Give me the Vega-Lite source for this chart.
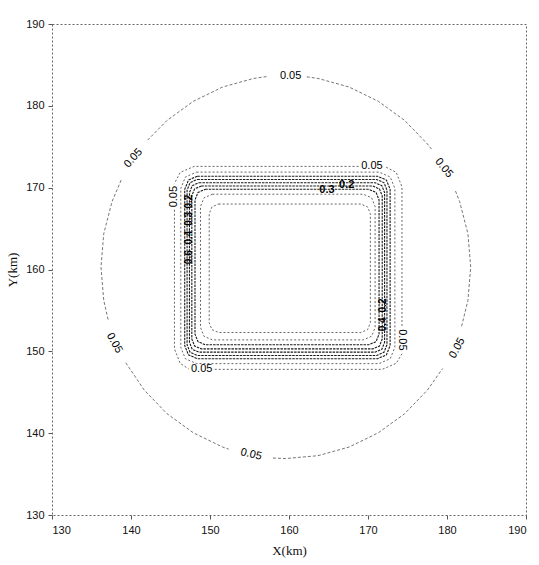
{
  "$schema": "https://vega.github.io/schema/vega-lite/v6.json",
  "width": 474,
  "height": 491,
  "autosize": {"type": "none"},
  "padding": {"left": 52, "top": 24, "right": 13, "bottom": 50},
  "background": "white",
  "config": {"view": {"stroke": "#666", "strokeDash": [2, 2], "strokeWidth": 1}},
  "datasets": {
    "lines": [
      {"c": "e1", "part": "outer", "o": 1, "x": 181.85, "y": 153.07},
      {"c": "e1", "part": "outer", "o": 2, "x": 182.65, "y": 156.23},
      {"c": "e1", "part": "outer", "o": 3, "x": 183.0, "y": 160.3},
      {"c": "e1", "part": "outer", "o": 4, "x": 182.65, "y": 164.37},
      {"c": "e1", "part": "outer", "o": 5, "x": 181.6, "y": 168.3},
      {"c": "e1", "part": "outer", "o": 6, "x": 180.98, "y": 169.82},
      {"c": "e2", "part": "outer", "o": 1, "x": 178.04, "y": 174.71},
      {"c": "e2", "part": "outer", "o": 2, "x": 177.52, "y": 175.34},
      {"c": "e2", "part": "outer", "o": 3, "x": 174.64, "y": 178.22},
      {"c": "e2", "part": "outer", "o": 4, "x": 171.3, "y": 180.56},
      {"c": "e2", "part": "outer", "o": 5, "x": 167.6, "y": 182.3},
      {"c": "e2", "part": "outer", "o": 6, "x": 163.67, "y": 183.35},
      {"c": "e2", "part": "outer", "o": 7, "x": 162.05, "y": 183.57},
      {"c": "e3", "part": "outer", "o": 1, "x": 157.15, "y": 183.57},
      {"c": "e3", "part": "outer", "o": 2, "x": 155.53, "y": 183.35},
      {"c": "e3", "part": "outer", "o": 3, "x": 151.6, "y": 182.3},
      {"c": "e3", "part": "outer", "o": 4, "x": 147.9, "y": 180.56},
      {"c": "e3", "part": "outer", "o": 5, "x": 144.56, "y": 178.22},
      {"c": "e3", "part": "outer", "o": 6, "x": 141.94, "y": 175.65},
      {"c": "e4", "part": "outer", "o": 1, "x": 138.75, "y": 170.92},
      {"c": "e4", "part": "outer", "o": 2, "x": 137.6, "y": 168.3},
      {"c": "e4", "part": "outer", "o": 3, "x": 136.55, "y": 164.37},
      {"c": "e4", "part": "outer", "o": 4, "x": 136.2, "y": 160.3},
      {"c": "e4", "part": "outer", "o": 5, "x": 136.55, "y": 156.23},
      {"c": "e4", "part": "outer", "o": 6, "x": 137.11, "y": 153.85},
      {"c": "e5", "part": "outer", "o": 1, "x": 139.34, "y": 148.6},
      {"c": "e5", "part": "outer", "o": 2, "x": 141.68, "y": 145.26},
      {"c": "e5", "part": "outer", "o": 3, "x": 144.56, "y": 142.38},
      {"c": "e5", "part": "outer", "o": 4, "x": 147.9, "y": 140.04},
      {"c": "e5", "part": "outer", "o": 5, "x": 151.6, "y": 138.3},
      {"c": "e5", "part": "outer", "o": 6, "x": 152.37, "y": 138.05},
      {"c": "e6", "part": "outer", "o": 1, "x": 157.97, "y": 136.96},
      {"c": "e6", "part": "outer", "o": 2, "x": 159.6, "y": 136.9},
      {"c": "e6", "part": "outer", "o": 3, "x": 163.67, "y": 137.25},
      {"c": "e6", "part": "outer", "o": 4, "x": 167.6, "y": 138.3},
      {"c": "e6", "part": "outer", "o": 5, "x": 171.3, "y": 140.04},
      {"c": "e6", "part": "outer", "o": 6, "x": 174.64, "y": 142.38},
      {"c": "e6", "part": "outer", "o": 7, "x": 177.52, "y": 145.26},
      {"c": "e6", "part": "outer", "o": 8, "x": 179.44, "y": 147.9},

      {"c": "s1", "part": "source", "o": 1, "x": 145.5, "y": 167.3},
      {"c": "s1", "part": "source", "o": 2, "x": 145.5, "y": 150.3},
      {"c": "s1", "part": "source", "o": 3, "x": 146.23, "y": 148.53},
      {"c": "s1", "part": "source", "o": 4, "x": 147.3, "y": 147.85},
      {"c": "s2", "part": "source", "o": 1, "x": 150.6, "y": 147.8},
      {"c": "s2", "part": "source", "o": 2, "x": 171.8, "y": 147.8},
      {"c": "s2", "part": "source", "o": 3, "x": 173.57, "y": 148.53},
      {"c": "s2", "part": "source", "o": 4, "x": 174.3, "y": 149.7},
      {"c": "s3", "part": "source", "o": 1, "x": 174.3, "y": 153.1},
      {"c": "s3", "part": "source", "o": 2, "x": 174.3, "y": 170.1},
      {"c": "s3", "part": "source", "o": 3, "x": 173.57, "y": 171.87},
      {"c": "s3", "part": "source", "o": 4, "x": 172.2, "y": 172.55},
      {"c": "s4", "part": "source", "o": 1, "x": 168.8, "y": 172.6},
      {"c": "s4", "part": "source", "o": 2, "x": 148.0, "y": 172.6},
      {"c": "s4", "part": "source", "o": 3, "x": 146.23, "y": 171.87},
      {"c": "s4", "part": "source", "o": 4, "x": 145.5, "y": 170.5},

      {"c": "c2", "part": "source", "o": 1, "x": 148.3, "y": 171.9},
      {"c": "c2", "part": "source", "o": 2, "x": 171.4, "y": 171.9},
      {"c": "c2", "part": "source", "o": 3, "x": 172.81, "y": 171.31},
      {"c": "c2", "part": "source", "o": 4, "x": 173.4, "y": 169.9},
      {"c": "c2", "part": "source", "o": 5, "x": 173.4, "y": 150.5},
      {"c": "c2", "part": "source", "o": 6, "x": 172.81, "y": 149.09},
      {"c": "c2", "part": "source", "o": 7, "x": 171.4, "y": 148.5},
      {"c": "c2", "part": "source", "o": 8, "x": 148.3, "y": 148.5},
      {"c": "c2", "part": "source", "o": 9, "x": 146.89, "y": 149.09},
      {"c": "c2", "part": "source", "o": 10, "x": 146.3, "y": 150.5},
      {"c": "c2", "part": "source", "o": 11, "x": 146.3, "y": 169.9},
      {"c": "c2", "part": "source", "o": 12, "x": 146.89, "y": 171.31},
      {"c": "c2", "part": "source", "o": 13, "x": 148.3, "y": 171.9},

      {"c": "c3", "part": "source", "o": 1, "x": 148.4, "y": 171.4},
      {"c": "c3", "part": "source", "o": 2, "x": 171.2, "y": 171.4},
      {"c": "c3", "part": "source", "o": 3, "x": 172.33, "y": 170.93},
      {"c": "c3", "part": "source", "o": 4, "x": 172.8, "y": 169.8},
      {"c": "c3", "part": "source", "o": 5, "x": 172.8, "y": 150.7},
      {"c": "c3", "part": "source", "o": 6, "x": 172.33, "y": 149.57},
      {"c": "c3", "part": "source", "o": 7, "x": 171.2, "y": 149.1},
      {"c": "c3", "part": "source", "o": 8, "x": 148.4, "y": 149.1},
      {"c": "c3", "part": "source", "o": 9, "x": 147.27, "y": 149.57},
      {"c": "c3", "part": "source", "o": 10, "x": 146.8, "y": 150.7},
      {"c": "c3", "part": "source", "o": 11, "x": 146.8, "y": 169.8},
      {"c": "c3", "part": "source", "o": 12, "x": 147.27, "y": 170.93},
      {"c": "c3", "part": "source", "o": 13, "x": 148.4, "y": 171.4},

      {"c": "c4", "part": "source", "o": 1, "x": 148.4, "y": 171.0},
      {"c": "c4", "part": "source", "o": 2, "x": 171.1, "y": 171.0},
      {"c": "c4", "part": "source", "o": 3, "x": 172.02, "y": 170.62},
      {"c": "c4", "part": "source", "o": 4, "x": 172.4, "y": 169.7},
      {"c": "c4", "part": "source", "o": 5, "x": 172.4, "y": 150.8},
      {"c": "c4", "part": "source", "o": 6, "x": 172.02, "y": 149.88},
      {"c": "c4", "part": "source", "o": 7, "x": 171.1, "y": 149.5},
      {"c": "c4", "part": "source", "o": 8, "x": 148.4, "y": 149.5},
      {"c": "c4", "part": "source", "o": 9, "x": 147.48, "y": 149.88},
      {"c": "c4", "part": "source", "o": 10, "x": 147.1, "y": 150.8},
      {"c": "c4", "part": "source", "o": 11, "x": 147.1, "y": 169.7},
      {"c": "c4", "part": "source", "o": 12, "x": 147.48, "y": 170.62},
      {"c": "c4", "part": "source", "o": 13, "x": 148.4, "y": 171.0},

      {"c": "c5", "part": "source", "o": 1, "x": 148.6, "y": 170.6},
      {"c": "c5", "part": "source", "o": 2, "x": 170.9, "y": 170.6},
      {"c": "c5", "part": "source", "o": 3, "x": 171.75, "y": 170.25},
      {"c": "c5", "part": "source", "o": 4, "x": 172.1, "y": 169.4},
      {"c": "c5", "part": "source", "o": 5, "x": 172.1, "y": 151.1},
      {"c": "c5", "part": "source", "o": 6, "x": 171.75, "y": 150.25},
      {"c": "c5", "part": "source", "o": 7, "x": 170.9, "y": 149.9},
      {"c": "c5", "part": "source", "o": 8, "x": 148.6, "y": 149.9},
      {"c": "c5", "part": "source", "o": 9, "x": 147.75, "y": 150.25},
      {"c": "c5", "part": "source", "o": 10, "x": 147.4, "y": 151.1},
      {"c": "c5", "part": "source", "o": 11, "x": 147.4, "y": 169.4},
      {"c": "c5", "part": "source", "o": 12, "x": 147.75, "y": 170.25},
      {"c": "c5", "part": "source", "o": 13, "x": 148.6, "y": 170.6},

      {"c": "c6", "part": "source", "o": 1, "x": 148.9, "y": 170.2},
      {"c": "c6", "part": "source", "o": 2, "x": 170.6, "y": 170.2},
      {"c": "c6", "part": "source", "o": 3, "x": 171.45, "y": 169.85},
      {"c": "c6", "part": "source", "o": 4, "x": 171.8, "y": 169.0},
      {"c": "c6", "part": "source", "o": 5, "x": 171.8, "y": 151.5},
      {"c": "c6", "part": "source", "o": 6, "x": 171.45, "y": 150.65},
      {"c": "c6", "part": "source", "o": 7, "x": 170.6, "y": 150.3},
      {"c": "c6", "part": "source", "o": 8, "x": 148.9, "y": 150.3},
      {"c": "c6", "part": "source", "o": 9, "x": 148.05, "y": 150.65},
      {"c": "c6", "part": "source", "o": 10, "x": 147.7, "y": 151.5},
      {"c": "c6", "part": "source", "o": 11, "x": 147.7, "y": 169.0},
      {"c": "c6", "part": "source", "o": 12, "x": 148.05, "y": 169.85},
      {"c": "c6", "part": "source", "o": 13, "x": 148.9, "y": 170.2},

      {"c": "c7", "part": "source", "o": 1, "x": 149.4, "y": 169.8},
      {"c": "c7", "part": "source", "o": 2, "x": 170.1, "y": 169.8},
      {"c": "c7", "part": "source", "o": 3, "x": 171.02, "y": 169.42},
      {"c": "c7", "part": "source", "o": 4, "x": 171.4, "y": 168.5},
      {"c": "c7", "part": "source", "o": 5, "x": 171.4, "y": 152.1},
      {"c": "c7", "part": "source", "o": 6, "x": 171.02, "y": 151.18},
      {"c": "c7", "part": "source", "o": 7, "x": 170.1, "y": 150.8},
      {"c": "c7", "part": "source", "o": 8, "x": 149.4, "y": 150.8},
      {"c": "c7", "part": "source", "o": 9, "x": 148.48, "y": 151.18},
      {"c": "c7", "part": "source", "o": 10, "x": 148.1, "y": 152.1},
      {"c": "c7", "part": "source", "o": 11, "x": 148.1, "y": 168.5},
      {"c": "c7", "part": "source", "o": 12, "x": 148.48, "y": 169.42},
      {"c": "c7", "part": "source", "o": 13, "x": 149.4, "y": 169.8},

      {"c": "c8", "part": "source", "o": 1, "x": 150.3, "y": 169.2},
      {"c": "c8", "part": "source", "o": 2, "x": 169.4, "y": 169.2},
      {"c": "c8", "part": "source", "o": 3, "x": 170.46, "y": 168.76},
      {"c": "c8", "part": "source", "o": 4, "x": 170.9, "y": 167.7},
      {"c": "c8", "part": "source", "o": 5, "x": 170.9, "y": 152.9},
      {"c": "c8", "part": "source", "o": 6, "x": 170.46, "y": 151.84},
      {"c": "c8", "part": "source", "o": 7, "x": 169.4, "y": 151.4},
      {"c": "c8", "part": "source", "o": 8, "x": 150.3, "y": 151.4},
      {"c": "c8", "part": "source", "o": 9, "x": 149.24, "y": 151.84},
      {"c": "c8", "part": "source", "o": 10, "x": 148.8, "y": 152.9},
      {"c": "c8", "part": "source", "o": 11, "x": 148.8, "y": 167.7},
      {"c": "c8", "part": "source", "o": 12, "x": 149.24, "y": 168.76},
      {"c": "c8", "part": "source", "o": 13, "x": 150.3, "y": 169.2},

      {"c": "c9", "part": "source", "o": 1, "x": 151.1, "y": 168.0},
      {"c": "c9", "part": "source", "o": 2, "x": 169.1, "y": 168.0},
      {"c": "c9", "part": "source", "o": 3, "x": 169.95, "y": 167.65},
      {"c": "c9", "part": "source", "o": 4, "x": 170.3, "y": 166.8},
      {"c": "c9", "part": "source", "o": 5, "x": 170.3, "y": 153.5},
      {"c": "c9", "part": "source", "o": 6, "x": 169.95, "y": 152.65},
      {"c": "c9", "part": "source", "o": 7, "x": 169.1, "y": 152.3},
      {"c": "c9", "part": "source", "o": 8, "x": 151.1, "y": 152.3},
      {"c": "c9", "part": "source", "o": 9, "x": 150.25, "y": 152.65},
      {"c": "c9", "part": "source", "o": 10, "x": 149.9, "y": 153.5},
      {"c": "c9", "part": "source", "o": 11, "x": 149.9, "y": 166.8},
      {"c": "c9", "part": "source", "o": 12, "x": 150.25, "y": 167.65},
      {"c": "c9", "part": "source", "o": 13, "x": 151.1, "y": 168.0}
    ],
    "labels": [
      {"t": "0.05", "side": "h", "x": 160.2, "y": 183.6},
      {"t": "0.05", "side": "nw", "x": 140.3, "y": 173.6},
      {"t": "0.05", "side": "ne", "x": 179.6, "y": 172.4},
      {"t": "0.05", "side": "sw", "x": 137.9, "y": 151.0},
      {"t": "0.05", "side": "s", "x": 155.2, "y": 137.4},
      {"t": "0.05", "side": "se", "x": 181.3, "y": 150.4},
      {"t": "0.05", "side": "h", "x": 170.5, "y": 172.6},
      {"t": "0.05", "side": "h", "x": 148.95, "y": 147.8},
      {"t": "0.05", "side": "up", "x": 145.5, "y": 168.9},
      {"t": "0.05", "side": "down", "x": 174.3, "y": 151.4}
    ],
    "inner": [
      {"t": "0.3", "side": "h", "x": 164.8, "y": 169.7},
      {"t": "0.2", "side": "h", "x": 167.3, "y": 170.3},
      {"t": "0.2", "side": "up", "x": 147.3, "y": 168.3},
      {"t": "0.3", "side": "up", "x": 147.3, "y": 166.2},
      {"t": "0.4", "side": "up", "x": 147.3, "y": 163.9},
      {"t": "0.6", "side": "up", "x": 147.3, "y": 161.5},
      {"t": "0.4", "side": "up", "x": 171.9, "y": 153.3},
      {"t": "0.2", "side": "up", "x": 171.9, "y": 155.6}
    ]
  },
  "encoding": {
    "x": {
      "field": "x", "type": "quantitative",
      "scale": {"domain": [130, 190], "nice": false, "zero": false},
      "axis": {
        "title": "X(km)", "titleFont": "Liberation Serif", "titleFontSize": 13, "titleFontWeight": "normal",
        "titleColor": "#111", "titlePadding": 9,
        "values": [130, 140, 150, 160, 170, 180, 190],
        "labelFont": "Liberation Sans", "labelFontSize": 11, "labelColor": "#111", "labelPadding": 5,
        "domain": false, "grid": false, "tickSize": 4, "tickColor": "#555", "tickWidth": 1
      }
    },
    "y": {
      "field": "y", "type": "quantitative",
      "scale": {"domain": [130, 190], "nice": false, "zero": false},
      "axis": {
        "title": "Y(km)", "titleFont": "Liberation Serif", "titleFontSize": 13, "titleFontWeight": "normal",
        "titleColor": "#111", "titlePadding": 6,
        "values": [130, 140, 150, 160, 170, 180, 190],
        "labelFont": "Liberation Sans", "labelFontSize": 11, "labelColor": "#111", "labelPadding": 4,
        "domain": false, "grid": false, "tickSize": 4, "tickColor": "#555", "tickWidth": 1
      }
    }
  },
  "layer": [
    {
      "data": {"name": "lines"},
      "transform": [{"filter": "datum.part === 'outer'"}],
      "mark": {"type": "line", "stroke": "#666", "strokeWidth": 0.9, "strokeDash": [3, 2]},
      "encoding": {"detail": {"field": "c"}, "order": {"field": "o", "type": "quantitative"}}
    },
    {
      "data": {"name": "lines"},
      "transform": [{"filter": "datum.part === 'source' && indexof(['c3','c4','c5','c6','c7'], datum.c) < 0"}],
      "mark": {"type": "line", "stroke": "#555", "strokeWidth": 0.9, "strokeDash": [2, 2]},
      "encoding": {"detail": {"field": "c"}, "order": {"field": "o", "type": "quantitative"}}
    },
    {
      "data": {"name": "lines"},
      "transform": [{"filter": "indexof(['c3','c4','c5','c6','c7'], datum.c) >= 0"}],
      "mark": {"type": "line", "stroke": "#1a1a1a", "strokeWidth": 1.1, "strokeDash": [2.5, 1]},
      "encoding": {"detail": {"field": "c"}, "order": {"field": "o", "type": "quantitative"}}
    },
    {
      "data": {"name": "labels"},
      "transform": [{"filter": "datum.side === 'h'"}],
      "mark": {"type": "text", "font": "Liberation Sans", "fontSize": 11, "fill": "#000", "angle": 0},
      "encoding": {"text": {"field": "t"}}
    },
    {
      "data": {"name": "labels"},
      "transform": [{"filter": "datum.side === 'nw'"}],
      "mark": {"type": "text", "font": "Liberation Sans", "fontSize": 11, "fill": "#000", "angle": -48},
      "encoding": {"text": {"field": "t"}}
    },
    {
      "data": {"name": "labels"},
      "transform": [{"filter": "datum.side === 'ne'"}],
      "mark": {"type": "text", "font": "Liberation Sans", "fontSize": 11, "fill": "#000", "angle": 51},
      "encoding": {"text": {"field": "t"}}
    },
    {
      "data": {"name": "labels"},
      "transform": [{"filter": "datum.side === 'sw'"}],
      "mark": {"type": "text", "font": "Liberation Sans", "fontSize": 11, "fill": "#000", "angle": 61},
      "encoding": {"text": {"field": "t"}}
    },
    {
      "data": {"name": "labels"},
      "transform": [{"filter": "datum.side === 's'"}],
      "mark": {"type": "text", "font": "Liberation Sans", "fontSize": 11, "fill": "#000", "angle": 13},
      "encoding": {"text": {"field": "t"}}
    },
    {
      "data": {"name": "labels"},
      "transform": [{"filter": "datum.side === 'se'"}],
      "mark": {"type": "text", "font": "Liberation Sans", "fontSize": 11, "fill": "#000", "angle": -61},
      "encoding": {"text": {"field": "t"}}
    },
    {
      "data": {"name": "labels"},
      "transform": [{"filter": "datum.side === 'up'"}],
      "mark": {"type": "text", "font": "Liberation Sans", "fontSize": 11, "fill": "#000", "angle": -90},
      "encoding": {"text": {"field": "t"}}
    },
    {
      "data": {"name": "labels"},
      "transform": [{"filter": "datum.side === 'down'"}],
      "mark": {"type": "text", "font": "Liberation Sans", "fontSize": 11, "fill": "#000", "angle": 90},
      "encoding": {"text": {"field": "t"}}
    },
    {
      "data": {"name": "inner"},
      "transform": [{"filter": "datum.side === 'h'"}],
      "mark": {"type": "text", "font": "Liberation Sans", "fontSize": 11, "fontWeight": "bold", "fill": "#000", "angle": 0},
      "encoding": {"text": {"field": "t"}}
    },
    {
      "data": {"name": "inner"},
      "transform": [{"filter": "datum.side === 'up'"}],
      "mark": {"type": "text", "font": "Liberation Sans", "fontSize": 10, "fontWeight": "bold", "fill": "#000", "angle": -90},
      "encoding": {"text": {"field": "t"}}
    }
  ]
}
